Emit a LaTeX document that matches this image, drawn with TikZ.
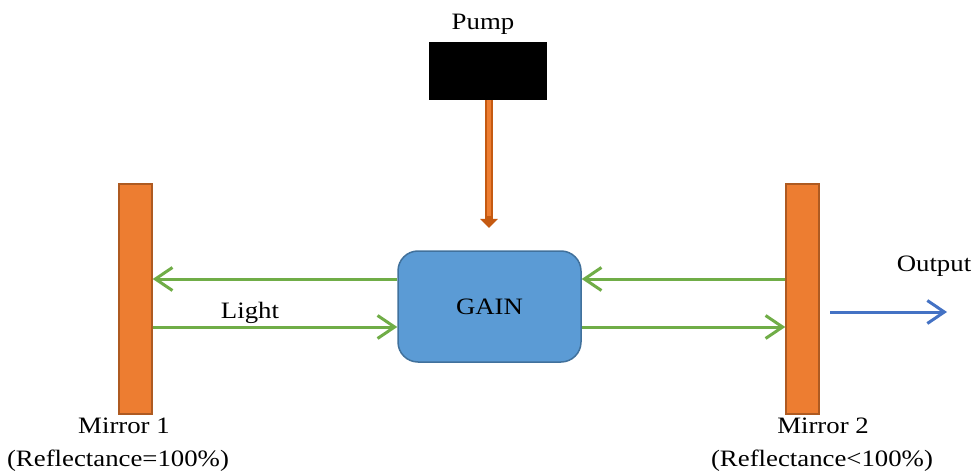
\documentclass[tikz,border=0pt]{standalone}
\usepackage{fontspec}
\setmainfont{Liberation Serif}[FakeStretch=1.14]
\usetikzlibrary{arrows.meta, positioning}
\definecolor{mirrorfill}{HTML}{ED7D31}
\definecolor{mirrorline}{HTML}{AE5A21}
\definecolor{gainfill}{HTML}{5B9BD5}
\definecolor{gainline}{HTML}{41719C}
\definecolor{beamgreen}{HTML}{70AD47}
\definecolor{beamblue}{HTML}{4472C4}
\definecolor{pumpline}{HTML}{C55A11}

\tikzset{
  label text/.style={font=\fontsize{23.5}{28}\selectfont, inner sep=0pt},
  mirror/.style={draw=mirrorline, fill=mirrorfill, line width=1.5pt, minimum width=33pt, minimum height=230pt, inner sep=0pt},
  gainbox/.style={draw=gainline, fill=gainfill, line width=1.5pt, rounded corners=20pt, minimum width=183pt, minimum height=111pt, label text},
  pumpbox/.style={fill=black, minimum width=118pt, minimum height=58pt, inner sep=0pt},
  beam/.style={draw=beamgreen, line width=3pt, -{Straight Barb[length=17pt, width=23pt]}},
  outbeam/.style={draw=beamblue, line width=3pt, -{Straight Barb[length=17pt, width=23pt]}}
}

\begin{document}
\begin{tikzpicture}[x=1pt, y=-1pt]
\useasboundingbox (0,0) rectangle (977,473);

\node[pumpbox] (pump) at (488,71) {};
\node[label text] (pumplabel) at (483,24) {Pump};
\node[mirror] (mirror1) at (135.5,299) {};
\node[mirror] (mirror2) at (802.5,299) {};
\node[gainbox] (gain) at (489.5,306.5) {GAIN};

\coordinate (upper) at (0,279);
\coordinate (lower) at (0,327);
\coordinate (pumpend) at (489,228);
\coordinate (outstart) at (830,312);
\coordinate (outend) at (947,312);

\draw[pumpline, line width=8pt, -{Triangle[length=9pt, width=17pt]}] (pump.south -| pumpend) -- (pumpend);
\draw[mirrorfill, line width=3.5pt] (pump.south -| pumpend) -- ([yshift=12pt]pumpend);

\draw[beam] (gain.west |- upper) -- (mirror1.east |- upper);
\draw[beam] (mirror1.east |- lower) -- (gain.west |- lower);
\draw[beam] (mirror2.west |- upper) -- (gain.east |- upper);
\draw[beam] (gain.east |- lower) -- (mirror2.west |- lower);
\draw[outbeam] (outstart) -- (outend);

\node[label text] (light) at (250,313) {Light};
\node[label text] (output) at (934,266) {Output};
\node[label text] (m1name) at (124,426) {Mirror 1};
\node[label text] (m1refl) at (118,461) {(Reflectance=100\%)};
\node[label text] (m2name) at (823,426) {Mirror 2};
\node[label text] (m2refl) at (822,461) {(Reflectance<100\%)};
\end{tikzpicture}
\end{document}
